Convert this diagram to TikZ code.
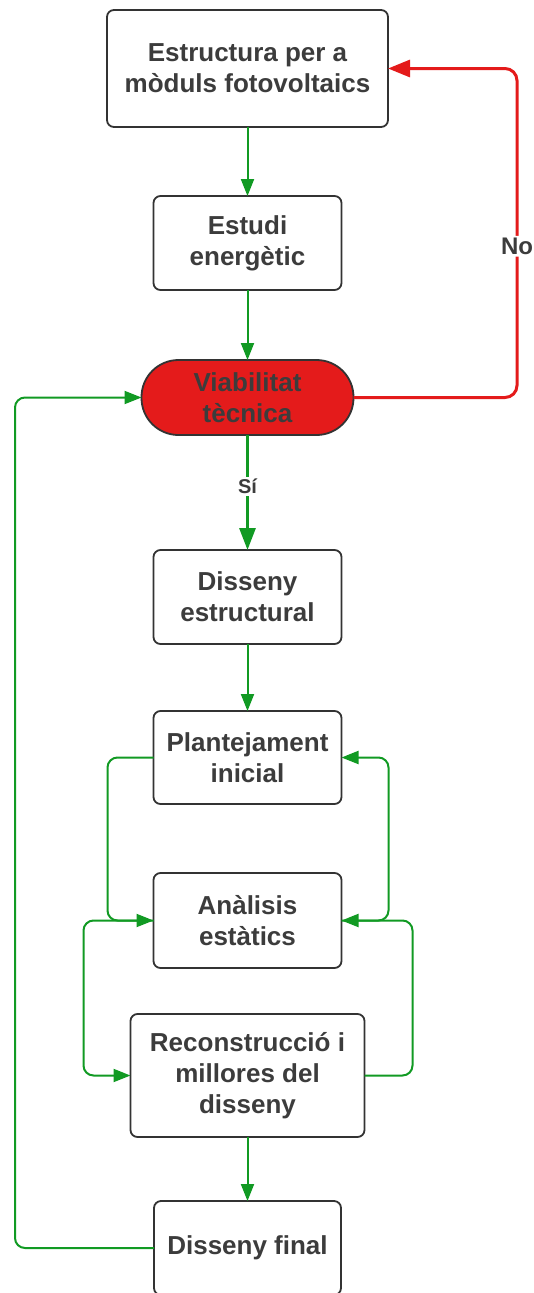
\documentclass[tikz,border=0pt]{standalone}
\usepackage{fontspec}
\setmainfont{Liberation Sans}
\usepackage{tikz}
\usetikzlibrary{arrows.meta, positioning}
\definecolor{FlowGreen}{HTML}{119A23}
\definecolor{FlowRed}{HTML}{E41B1B}
\definecolor{BoxLine}{HTML}{333333}
\definecolor{BoxText}{HTML}{3C3C3C}
\tikzset{
  stepbox/.style={rectangle, rounded corners=7pt, draw=BoxLine, line width=1.8pt, outer sep=0pt, fill=white, text=BoxText, minimum width=188pt, minimum height=94pt, inner sep=3pt, font=\fontsize{26}{31}\selectfont\bfseries, align=center},
  decisionbox/.style={stepbox, fill=FlowRed, rounded corners=37pt, minimum width=212pt, minimum height=75pt},
  arrow/.style={-{Triangle[length=17pt,width=13pt]}, line width=2pt, FlowGreen, rounded corners=10pt},
  bigarrow/.style={-{Triangle[length=22pt,width=16pt]}, line width=3pt, FlowGreen},
  redarrow/.style={-{Triangle[length=22pt,width=17pt]}, line width=3pt, FlowRed, rounded corners=12pt},
  lbl/.style={fill=white, text=BoxText, inner sep=2pt, font=\fontsize{20}{24}\selectfont\bfseries}
}
\begin{document}
\begin{tikzpicture}[x=1pt, y=-1pt]
  \useasboundingbox (0,0) rectangle (534,1293);
  \node[stepbox, minimum width=281pt, minimum height=117pt] (estr) at (247.5,68.5) {Estructura per a\\mòduls fotovoltaics};
  \node[stepbox, below=69pt of estr] (estudi) {Estudi\\energètic};
  \node[decisionbox, below=70pt of estudi] (viab) {Viabilitat\\tècnica};
  \node[stepbox, below=115pt of viab] (disest) {Disseny\\estructural};
  \node[stepbox, below=67pt of disest, minimum height=93pt] (plant) {Plantejament\\inicial};
  \node[stepbox, below=69pt of plant, minimum height=95pt] (anal) {Anàlisis\\estàtics};
  \node[stepbox, below=46pt of anal, minimum width=234pt, minimum height=123pt] (recon) {Reconstrucció i\\millores del\\disseny};
  \node[stepbox, below=64pt of recon, minimum width=187pt] (final) {Disseny final};

  \coordinate (rside) at (517,0);

  \draw[arrow] (estr) -- (estudi);
  \draw[arrow] (estudi) -- (viab);
  \draw[bigarrow] (viab) -- node[lbl, pos=0.45] {Sí} (disest);
  \draw[redarrow] (viab.east) -- (viab.east -| rside) -- node[lbl, pos=0.46, font=\fontsize{24}{28}\selectfont\bfseries] {No} (estr.east -| rside) -- (estr.east);
  \draw[arrow] (disest) -- (plant);

  % bucle de disseny
  \draw[arrow] (plant.west) -- ++(-46,0) |- (anal.west);
  \draw[arrow] (anal.west) -- ++(-70,0) |- (recon.west);
  \draw[arrow] (anal.east) -- ++(47,0) |- (plant.east);
  \draw[arrow] (recon.east) -- ++(48,0) |- (anal.east);

  \draw[arrow] (recon) -- (final);
  \draw[arrow] (final.west) -- ++(-139,0) |- (viab.west);
\end{tikzpicture}
\end{document}
